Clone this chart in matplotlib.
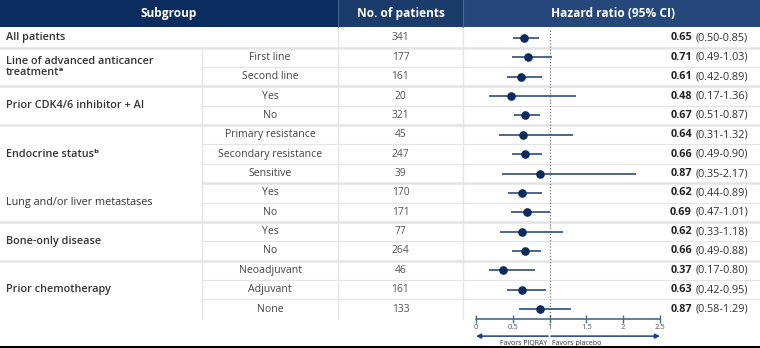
import matplotlib
matplotlib.use("Agg")
import matplotlib.pyplot as plt
from matplotlib.patches import Rectangle

plt.rcParams['font.family'] = ['Open Sans', 'DejaVu Sans']

# subgroup table
groups = ["All patients", "Line of advanced anticancer\ntreatmentᵃ",
          "Prior CDK4/6 inhibitor + AI", "Endocrine statusᵇ",
          "Lung and/or liver metastases", "Bone-only disease",
          "Prior chemotherapy"]
group_sizes = [1, 2, 2, 3, 2, 2, 3]
group_bold = [True, True, True, True, False, True, True]
sub_labels = ["", "First line", "Second line", "Yes", "No",
              "Primary resistance", "Secondary resistance", "Sensitive",
              "Yes", "No", "Yes", "No", "Neoadjuvant", "Adjuvant", "None"]
n_patients = [341, 177, 161, 20, 321, 45, 247, 39, 170, 171, 77, 264, 46, 161, 133]
hr = [0.65, 0.71, 0.61, 0.48, 0.67, 0.64, 0.66, 0.87, 0.62, 0.69, 0.62, 0.66, 0.37, 0.63, 0.87]
ci_lo = [0.50, 0.49, 0.42, 0.17, 0.51, 0.31, 0.49, 0.35, 0.44, 0.47, 0.33, 0.49, 0.17, 0.42, 0.58]
ci_hi = [0.85, 1.03, 0.89, 1.36, 0.87, 1.32, 0.90, 2.17, 0.89, 1.01, 1.18, 0.88, 0.80, 0.95, 1.29]
hr_ticks = [0, 0.5, 1, 1.5, 2, 2.5]

W, H = 760, 348
TOP, ROW_H = 28.3, 19.36
X_SUB, X_NUM, X_HR = 202, 338, 463
GRID = "#e4e4e4"
NAVY = "#0d2b5b"

fig = plt.figure(figsize=(W / 100, H / 100), dpi=100)
ax = fig.add_axes([0, 0, 1, 1])
ax.set_xlim(0, W)
ax.set_ylim(H, 0)
ax.axis("off")

# header band
ax.add_patch(Rectangle((0, 0), X_NUM, TOP - 1, color="#0b2c5e", lw=0))
ax.add_patch(Rectangle((X_NUM, 0), X_HR - X_NUM, TOP - 1, color="#1b3b6b", lw=0))
ax.add_patch(Rectangle((X_HR, 0), W - X_HR, TOP - 1, color="#26477a", lw=0))
for x in (X_NUM, X_HR):
    ax.plot([x, x], [0, TOP - 1], color="#4b6690", lw=0.8)
hdr = dict(color="white", fontsize=8.6, fontweight="bold", va="center", ha="center")
ax.text(X_NUM / 2, TOP / 2 - 0.5, "Subgroup", **hdr)
ax.text((X_NUM + X_HR) / 2, TOP / 2 - 0.5, "No. of patients", **hdr)
ax.text(613, TOP / 2 - 0.5, "Hazard ratio (95% CI)", **hdr)

n_rows = len(n_patients)
bottom = TOP + n_rows * ROW_H

# vertical column lines
ax.plot([X_NUM, X_NUM], [TOP, bottom], color=GRID, lw=1)
ax.plot([X_HR, X_HR], [TOP, bottom], color=GRID, lw=1)

row = 0
for g, (label, size, bold) in enumerate(zip(groups, group_sizes, group_bold)):
    y0 = TOP + row * ROW_H
    y1 = y0 + size * ROW_H
    ax.text(6, (y0 + y1) / 2, label, fontsize=7.8, color="#333333",
            fontweight="semibold" if bold else "normal",
            va="center", ha="left", linespacing=1.1)
    if size > 1:
        ax.plot([X_SUB, X_SUB], [y0, y1], color=GRID, lw=1)
        for k in range(1, size):
            yk = y0 + k * ROW_H
            ax.plot([X_SUB, W], [yk, yk], color=GRID, lw=0.8)
    if g < len(groups) - 1:
        # group separator; the left cell of the metastases group runs on
        x_start = X_SUB if groups[g + 1].startswith("Lung") else 0
        ax.plot([x_start, W], [y1, y1], color=GRID, lw=1.8)
    row += size

for i in range(n_rows):
    yc = TOP + (i + 0.5) * ROW_H
    if sub_labels[i]:
        ax.text((X_SUB + X_NUM) / 2, yc, sub_labels[i], fontsize=7.6,
                color="#444444", va="center", ha="center")
    ax.text((X_NUM + X_HR) / 2, yc, str(n_patients[i]), fontsize=7.4,
            color="#555555", va="center", ha="center")
    ci = ax.text(748, yc, f"({ci_lo[i]:.2f}-{ci_hi[i]:.2f})", fontsize=7.8,
                 color="#333333", va="center", ha="right")
    ax.annotate(f"{hr[i]:.2f}", xy=(0, 0), xycoords=ci, xytext=(-2.5, 0),
                textcoords="offset points", fontsize=7.8, fontweight="bold",
                color="#222222", va="bottom", ha="right")

# bottom edge strip
ax.add_patch(Rectangle((0, H - 2), W, 2, color="black", lw=0))

# forest plot
px0, px_unit = 476, 73.6
axf = fig.add_axes([X_HR / W, 1 - bottom / H, (W - X_HR) / W, (bottom - TOP) / H])
axf.patch.set_alpha(0)
axf.set_xlim((X_HR - px0) / px_unit, (W - px0) / px_unit)
axf.set_ylim(n_rows, 0)
ys = [i + 0.5 for i in range(n_rows)]
axf.axvline(1, color="#777777", lw=0.9, ls=(0, (1, 1.5)), zorder=1)
axf.hlines(ys, ci_lo, ci_hi, color="#3d5a80", lw=1.3, zorder=2)
axf.plot(hr, ys, "o", color=NAVY, ms=5.2, zorder=3)

for s in ("top", "right", "left"):
    axf.spines[s].set_visible(False)
axf.spines["bottom"].set_bounds(0, 2.5)
axf.spines["bottom"].set_color("#4a6a8a")
axf.spines["bottom"].set_linewidth(1.2)
axf.set_yticks([])
axf.set_xticks(hr_ticks)
axf.set_xticklabels([f"{t:g}" for t in hr_ticks])
axf.tick_params(axis="x", direction="inout", length=6, width=1,
                color="#4a6a8a", labelsize=5.5, labelcolor="#555555", pad=1)

arrow = dict(arrowstyle="-|>", color="#1f3f6f", lw=1.1, mutation_scale=7,
             shrinkA=0, shrinkB=0)
axf.annotate("", xy=(0, -0.06), xytext=(0.98, -0.06),
             xycoords=("data", "axes fraction"), arrowprops=arrow,
             annotation_clip=False)
axf.annotate("", xy=(2.5, -0.06), xytext=(1.02, -0.06),
             xycoords=("data", "axes fraction"), arrowprops=arrow,
             annotation_clip=False)
axf.text(0.97, -0.085, "Favors PIQRAY", transform=axf.get_xaxis_transform(),
         fontsize=5, color="#333333", ha="right", va="center", clip_on=False)
axf.text(1.03, -0.085, "Favors placebo", transform=axf.get_xaxis_transform(),
         fontsize=5, color="#333333", ha="left", va="center", clip_on=False)

fig.savefig("out.png", dpi=100)
